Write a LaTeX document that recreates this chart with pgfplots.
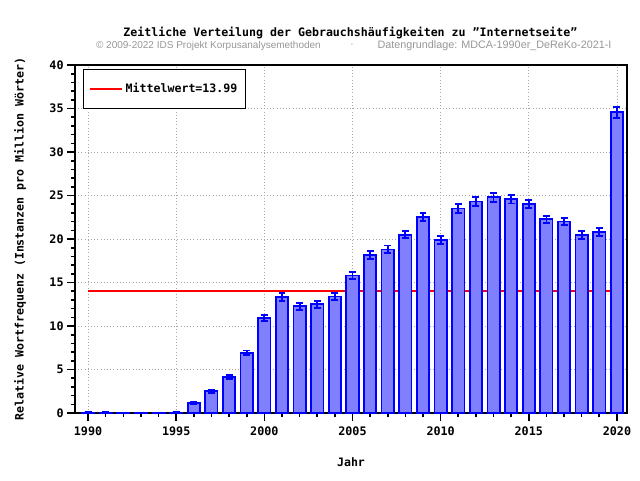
\documentclass[border=0pt]{standalone}
\usepackage{pgfplots}
\pgfplotsset{compat=1.18}
\usepackage{fontspec}
\setmainfont{DejaVu Sans Mono}
\newfontfamily\subfont{Liberation Sans}
\definecolor{barfill}{RGB}{128,128,255}
\definecolor{subgray}{RGB}{150,150,150}
\definecolor{meanred}{RGB}{255,0,0}
\begin{document}
\begin{tikzpicture}
\path[use as bounding box] (-56.25pt,-50.25pt) rectangle (423.75pt,309.75pt);
\begin{axis}[
  at={(0pt,0pt)}, anchor=south west,
  scale only axis, width=414pt, height=261pt,
  xmin=1989.26, xmax=2020.57, ymin=0, ymax=40,
  xtick={1990,1995,...,2020},
  minor xtick={1990,...,2020},
  ytick={0,5,...,40},
  minor ytick={0,1,...,40},
  xtick pos=bottom, ytick pos=left,
  tick align=outside,
  major tick length=6pt, minor tick length=3pt,
  tick style={black, line width=1.2pt},
  axis line style={line width=1.5pt},
  xmajorgrids, ymajorgrids,
  major grid style={gray!70, dotted, line width=0.6pt},
  /pgf/number format/assume math mode=true,
  /pgf/number format/1000 sep={},
  tick label style={font=\bfseries\fontsize{8.8}{10}\selectfont},
  xticklabel style={yshift=-1pt},
  yticklabel style={xshift=1pt},
  xlabel={Jahr},
  xlabel style={font=\bfseries\fontsize{8.7}{10}\selectfont, at={(axis description cs:0.5,0)}, anchor=center, yshift=-36.75pt},
  ylabel={Relative Wortfrequenz (Instanzen pro Million Wörter)},
  ylabel style={font=\bfseries\fontsize{8.7}{10}\selectfont, at={(axis description cs:-0.0996,0.5)}, anchor=center},
  legend style={at={(0.0145,0.9885)}, anchor=north west,
    font=\bfseries\fontsize{8.7}{10}\selectfont, inner xsep=4pt, inner ysep=8.5pt,
    cells={anchor=west}},
  legend image code/.code={\draw[#1] plot coordinates {(0pt,0pt) (12pt,0pt) (24pt,0pt)};},
]
\addplot[meanred, line width=1.8pt, mark=none, solid, sharp plot] coordinates {(1990,13.99) (2000,13.99) (2010,13.99) (2020,13.99)};
\addlegendentry{Mittelwert=13.99}
\addplot[ybar, bar width=0.7, draw=blue, line width=1.3pt, fill=barfill, forget plot,
  error bars/.cd, y dir=both, y explicit,
  error bar style={blue, line width=1.4pt},
  error mark options={blue, rotate=90, mark size=2.6pt, line width=1.4pt}]
  table[x=year, y=val, y error=err] {
year val err
1990 0.05 0.04
1991 0.05 0.04
1992 0.02 0.02
1993 0.02 0.02
1994 0.02 0.02
1995 0.05 0.04
1996 1.15 0.15
1997 2.49 0.18
1998 4.10 0.22
1999 6.90 0.28
2000 10.90 0.32
2001 13.30 0.45
2002 12.26 0.38
2003 12.50 0.40
2004 13.40 0.42
2005 15.80 0.42
2006 18.20 0.45
2007 18.80 0.45
2008 20.50 0.42
2009 22.50 0.45
2010 19.85 0.45
2011 23.50 0.48
2012 24.30 0.48
2013 24.80 0.52
2014 24.56 0.48
2015 24.00 0.48
2016 22.26 0.42
2017 22.00 0.42
2018 20.50 0.45
2019 20.77 0.45
2020 34.56 0.62
};
\end{axis}
\node[font=\bfseries\fontsize{8.7}{10}\selectfont] at (206.6pt,285pt) {Zeitliche Verteilung der Gebrauchshäufigkeiten zu "Internetseite"};
\node[font=\subfont\fontsize{7.5}{9}\selectfont, text=subgray, inner sep=0pt] at (100.1pt,275.25pt) {© 2009-2022 IDS Projekt Korpusanalysemethoden};
\node[font=\subfont\fontsize{7.5}{9}\selectfont, text=subgray, inner sep=0pt] at (207.75pt,275.25pt) {·};
\node[font=\subfont\fontsize{8.1}{9}\selectfont, text=subgray, inner sep=0pt] at (314.6pt,275.25pt) {Datengrundlage: MDCA-1990er\_DeReKo-2021-I};
\end{tikzpicture}
\end{document}
